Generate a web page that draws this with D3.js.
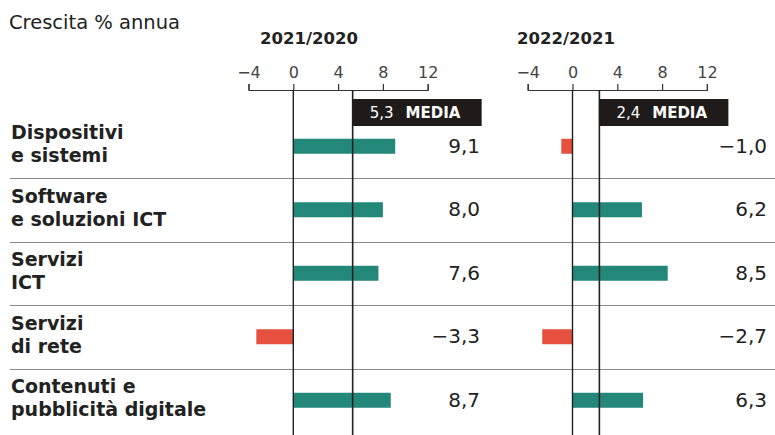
<!DOCTYPE html>
<html>
<head>
<meta charset="utf-8">
<script src="https://cdn.jsdelivr.net/npm/d3@7"></script>
<style>
  body { margin: 0; background: #fff; }
  svg { display: block; font-family: "DejaVu Sans", sans-serif; }
</style>
</head>
<body>
<div id="container"></div>
<script>
// Data
const categories = [
  ["Dispositivi", "e sistemi"],
  ["Software", "e soluzioni ICT"],
  ["Servizi", "ICT"],
  ["Servizi", "di rete"],
  ["Contenuti e", "pubblicità digitale"]
];
const values2021 = [9.1, 8.0, 7.6, -3.3, 8.7];
const values2022 = [-1.0, 6.2, 8.5, -2.7, 6.3];
const periods = ["2021/2020", "2022/2021"];
const averages = [5.3, 2.4];
const tickValues = [-4, 0, 4, 8, 12];

const width = 775;
const height = 435;

const teal = "#23877a";
const red = "#e5503f";
const ink = "#222";

const it = d3.formatLocale({ decimal: ",", thousands: ".", grouping: [3], currency: ["", "€"], minus: "\u2212" });
const fmt = it.format(".1f");

const keys = categories.map((d, i) => i);

// rows
const y = d3.scaleBand()
    .domain(keys)
    .range([114.5, 432]);

const svg = d3.create("svg")
    .attr("width", width)
    .attr("height", height)
    .attr("viewBox", [0, 0, width, height]);

// title
svg.append("text")
    .attr("x", 9)
    .attr("y", 29)
    .attr("fill", ink)
    .attr("font-size", 19.5)
    .text("Crescita % annua");

// row separators
svg.append("g")
  .selectAll()
  .data(keys.slice(1))
  .join("line")
    .attr("x1", 10)
    .attr("x2", width)
    .attr("y1", d => Math.round(y(d)) + 0.5)
    .attr("y2", d => Math.round(y(d)) + 0.5)
    .attr("stroke", "#8a8a8a")
    .attr("stroke-width", 1);

// category labels
const lab = svg.append("g")
  .selectAll()
  .data(keys)
  .join("text")
    .attr("x", 11)
    .attr("y", d => y(d) + y.bandwidth() / 2 - 7)
    .attr("fill", ink)
    .attr("font-size", 19)
    .attr("font-weight", "bold");
lab.selectAll("tspan")
  .data(d => categories[d])
  .join("tspan")
    .attr("x", 11)
    .attr("dy", (d, i) => i === 0 ? 0 : 23)
    .text(d => d);

// panels
const panels = [
  { title: periods[0], values: values2021, avg: averages[0], range: [248.5, 427.7], labelX: 480, titleX: 260 },
  { title: periods[1], values: values2022, avg: averages[1], range: [527.7, 706.9], labelX: 767, titleX: 517 }
];

panels.forEach(p => {
  const x = d3.scaleLinear()
      .domain([-4, 12])
      .range(p.range);

  const g = svg.append("g");

  g.append("text")
      .attr("x", p.titleX)
      .attr("y", 44)
      .attr("fill", ink)
      .attr("font-size", 16.5)
      .attr("font-weight", "bold")
      .text(p.title);

  // axis with ticks pointing up
  g.append("g")
      .attr("transform", "translate(0,90)")
      .call(d3.axisTop(x).tickValues(tickValues).tickSize(6).tickSizeOuter(6).tickPadding(6.5).tickFormat(it.format("d")))
      .call(a => a.select(".domain").attr("stroke", "#333").attr("stroke-width", 1.2))
      .call(a => a.selectAll(".tick line").attr("stroke", "#333").attr("stroke-width", 1.2))
      .call(a => a.selectAll(".tick text")
          .attr("font-size", 16)
          .attr("fill", "#444")
          .attr("font-family", "'DejaVu Sans', sans-serif"));

  // bars
  g.append("g")
    .selectAll()
    .data(keys)
    .join("rect")
      .attr("x", d => x(Math.min(0, p.values[d])))
      .attr("y", d => y(d) + y.bandwidth() / 2 - 7.5)
      .attr("width", d => Math.abs(x(p.values[d]) - x(0)))
      .attr("height", 15)
      .attr("fill", d => p.values[d] < 0 ? red : teal);

  // zero line
  g.append("line")
      .attr("x1", x(0)).attr("x2", x(0))
      .attr("y1", 90).attr("y2", height)
      .attr("stroke", ink)
      .attr("stroke-width", 1.4);

  // average line and box
  g.append("line")
      .attr("x1", x(p.avg)).attr("x2", x(p.avg))
      .attr("y1", 90).attr("y2", height)
      .attr("stroke", ink)
      .attr("stroke-width", 1.6);

  g.append("rect")
      .attr("x", x(p.avg))
      .attr("y", 99)
      .attr("width", 129)
      .attr("height", 27)
      .attr("fill", "#1f1b1a");

  const t = g.append("text")
      .attr("x", x(p.avg) + 17)
      .attr("y", 118)
      .attr("fill", "#fff")
      .attr("font-size", 15);
  t.append("tspan").text(fmt(p.avg));
  t.append("tspan").attr("dx", 12).attr("font-weight", "bold").text("MEDIA");

  // value labels
  g.append("g")
    .selectAll()
    .data(keys)
    .join("text")
      .attr("x", p.labelX)
      .attr("y", d => y(d) + y.bandwidth() / 2 + 6.5)
      .attr("text-anchor", "end")
      .attr("fill", ink)
      .attr("font-size", 20)
      .text(d => fmt(p.values[d]));
});

container.append(svg.node());
</script>
</body>
</html>
